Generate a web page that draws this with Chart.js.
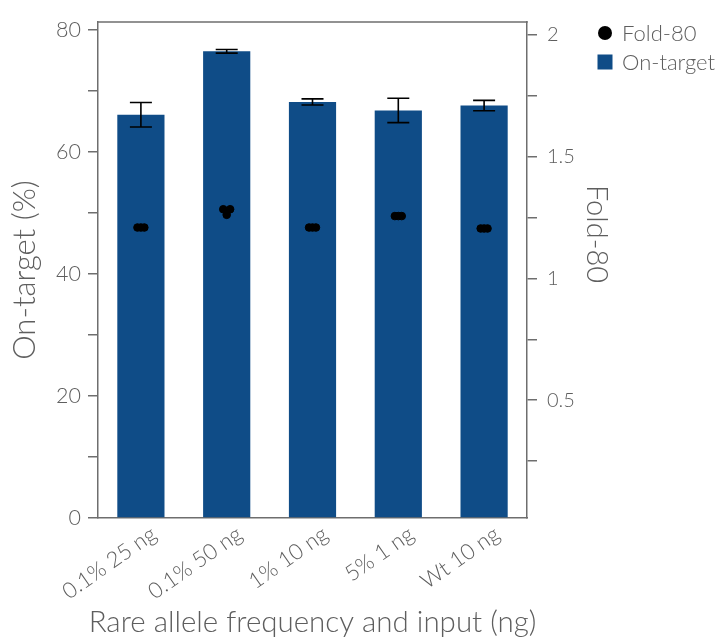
<!DOCTYPE html>
<html>
<head>
<meta charset="utf-8">
<script src="https://cdn.jsdelivr.net/npm/chart.js@4.4.1/dist/chart.umd.min.js"></script>
<style>
  html, body { margin: 0; padding: 0; background: #ffffff; }
  #wrap { width: 717px; height: 640px; position: relative; }
</style>
</head>
<body>
<div id="wrap"><canvas id="c" width="717" height="640"></canvas></div>
<script>
// ---- data ----
const categories = ['0.1% 25 ng', '0.1% 50 ng', '1% 10 ng', '5% 1 ng', 'Wt 10 ng'];
const onTargetMean = [66.1, 76.5, 68.2, 66.8, 67.6];
const onTargetErr = [2.0, 0.3, 0.5, 2.0, 0.85];
const fold80Rep1 = [1.209, 1.284, 1.209, 1.256, 1.205];
const fold80Rep2 = [1.209, 1.261, 1.209, 1.256, 1.205];
const fold80Rep3 = [1.209, 1.284, 1.209, 1.256, 1.205];
const leftTicks = [0, 10, 20, 30, 40, 50, 60, 70, 80];
const rightTicks = [0.25, 0.5, 0.75, 1, 1.25, 1.5, 1.75, 2];
const rightTitle = 'Fold-80';
const xTitle = 'Rare allele frequency and input (ng)';

// ---- styling ----
const BAR_COLOR = '#0f4c87';
const AXIS_COLOR = '#6e6e6e';
const TEXT_COLOR = '#5e5e5e';
const FONT = 'Lato, "Open Sans", sans-serif';
const W = 300;
const REP_SPREAD = 0.04; // horizontal spread of replicate dots (category units)

const replicates = [fold80Rep1, fold80Rep2, fold80Rep3];
const foldPoints = [];
categories.forEach((c, i) => {
  replicates.forEach((rep, r) => {
    foldPoints.push({ x: i + (r - 1) * REP_SPREAD, y: rep[i] });
  });
});

const errorBarPlugin = {
  id: 'errorBars',
  afterDatasetsDraw(chart) {
    const meta = chart.getDatasetMeta(1);
    const ys = chart.scales.y;
    const ctx = chart.ctx;
    ctx.save();
    ctx.strokeStyle = '#000000';
    ctx.lineWidth = 1.6;
    meta.data.forEach((bar, i) => {
      const x = bar.x;
      const yTop = ys.getPixelForValue(onTargetMean[i] + onTargetErr[i]);
      const yBot = ys.getPixelForValue(onTargetMean[i] - onTargetErr[i]);
      const cap = 11;
      ctx.beginPath();
      ctx.moveTo(x, yTop); ctx.lineTo(x, yBot);
      ctx.moveTo(x - cap, yTop); ctx.lineTo(x + cap, yTop);
      ctx.moveTo(x - cap, yBot); ctx.lineTo(x + cap, yBot);
      ctx.stroke();
    });
    ctx.restore();
  }
};

const frameAndLegendPlugin = {
  id: 'frameLegend',
  afterDraw(chart) {
    const ctx = chart.ctx;
    const a = chart.chartArea;
    ctx.save();
    // top edge of the frame
    ctx.strokeStyle = AXIS_COLOR;
    ctx.lineWidth = 1.5;
    ctx.beginPath();
    ctx.moveTo(a.left - 0.75, a.top);
    ctx.lineTo(a.right + 0.75, a.top);
    ctx.stroke();
    // x axis title (wider than the plot area, so drawn without width limit)
    ctx.font = W + ' 29.5px ' + FONT;
    ctx.fillStyle = TEXT_COLOR;
    ctx.textAlign = 'center';
    ctx.textBaseline = 'alphabetic';
    ctx.fillText(xTitle, (a.left + a.right) / 2, 632);
    // right axis title (placed above the axis centre, as in the reference)
    ctx.save();
    ctx.translate(587, 234);
    ctx.rotate(Math.PI / 2);
    ctx.font = W + ' 29px ' + FONT;
    ctx.fillStyle = TEXT_COLOR;
    ctx.textAlign = 'center';
    ctx.textBaseline = 'alphabetic';
    ctx.fillText(rightTitle, 0, 0);
    ctx.restore();
    // legend
    const items = [
      { label: chart.data.datasets[0].label, type: 'circle', color: '#000000' },
      { label: chart.data.datasets[1].label, type: 'square', color: BAR_COLOR }
    ];
    const lx = 605, ly0 = 33, gap = 29;
    ctx.font = W + ' 22px ' + FONT;
    ctx.textBaseline = 'middle';
    ctx.textAlign = 'left';
    items.forEach((it, k) => {
      const y = ly0 + k * gap;
      ctx.fillStyle = it.color;
      if (it.type === 'circle') {
        ctx.beginPath(); ctx.arc(lx, y, 7, 0, Math.PI * 2); ctx.fill();
      } else {
        ctx.fillRect(lx - 7.5, y - 7.5, 15, 15);
      }
      ctx.fillStyle = TEXT_COLOR;
      ctx.fillText(it.label, lx + 17, y + 1);
    });
    ctx.restore();
  }
};

new Chart(document.getElementById('c'), {
  type: 'bar',
  data: {
    labels: categories,
    datasets: [
      {
        type: 'scatter',
        label: 'Fold-80',
        data: foldPoints,
        xAxisID: 'xs',
        yAxisID: 'y1',
        backgroundColor: '#000000',
        borderColor: '#000000',
        pointRadius: 3.8,
        pointHoverRadius: 3.8,
        order: 0
      },
      {
        type: 'bar',
        label: 'On-target',
        data: onTargetMean,
        xAxisID: 'x',
        yAxisID: 'y',
        backgroundColor: BAR_COLOR,
        borderWidth: 0,
        grouped: false,
        barPercentage: 0.55,
        categoryPercentage: 1.0,
        order: 1
      }
    ]
  },
  options: {
    responsive: false,
    animation: false,
    events: [],
    layout: { padding: { left: 0, right: 102, top: 20, bottom: 0 } },
    plugins: { legend: { display: false }, tooltip: { enabled: false } },
    scales: {
      x: {
        type: 'category',
        position: 'bottom',
        offset: true,
        grid: { display: false, drawTicks: false },
        border: { display: true, color: AXIS_COLOR, width: 1.5 },
        ticks: {
          minRotation: 35, maxRotation: 35,
          color: TEXT_COLOR,
          font: { family: FONT, size: 22, weight: W },
          padding: 3,
          labelOffset: 13
        },
        title: { display: false },
        afterFit(scale) { scale.height = 122; }
      },
      xs: {
        type: 'linear',
        display: false,
        offset: false,
        grid: { offset: false },
        min: -0.5,
        max: 4.5
      },
      y: {
        type: 'linear',
        position: 'left',
        min: 0,
        max: 81.3,
        afterBuildTicks(scale) { scale.ticks = leftTicks.map(v => ({ value: v })); },
        grid: { drawOnChartArea: false, drawTicks: true, tickLength: 10, color: AXIS_COLOR, lineWidth: 1.5 },
        border: { display: true, color: AXIS_COLOR, width: 1.5 },
        ticks: {
          color: TEXT_COLOR,
          font: { family: FONT, size: 21.5, weight: W },
          padding: 7,
          callback(v) { return v % 20 === 0 ? String(v) : ''; }
        },
        title: {
          display: true,
          text: 'On-target (%)',
          color: TEXT_COLOR,
          font: { family: FONT, size: 31, weight: W },
          padding: { top: 6, bottom: 0 }
        },
        afterFit(scale) { scale.width = 98; }
      },
      y1: {
        type: 'linear',
        position: 'right',
        min: 0.016,
        max: 2.053,
        afterBuildTicks(scale) { scale.ticks = rightTicks.map(v => ({ value: v })); },
        grid: { drawOnChartArea: false, drawTicks: true, tickLength: 10, color: AXIS_COLOR, lineWidth: 1.5 },
        border: { display: true, color: AXIS_COLOR, width: 1.5 },
        ticks: {
          color: TEXT_COLOR,
          font: { family: FONT, size: 20, weight: W },
          padding: 10,
          callback(v) { return (Math.round(v * 100) % 50 === 0) ? String(v) : ''; }
        },
        title: { display: false },
        afterFit(scale) { scale.width = 88; }
      }
    }
  },
  plugins: [errorBarPlugin, frameAndLegendPlugin]
});
</script>
</body>
</html>
